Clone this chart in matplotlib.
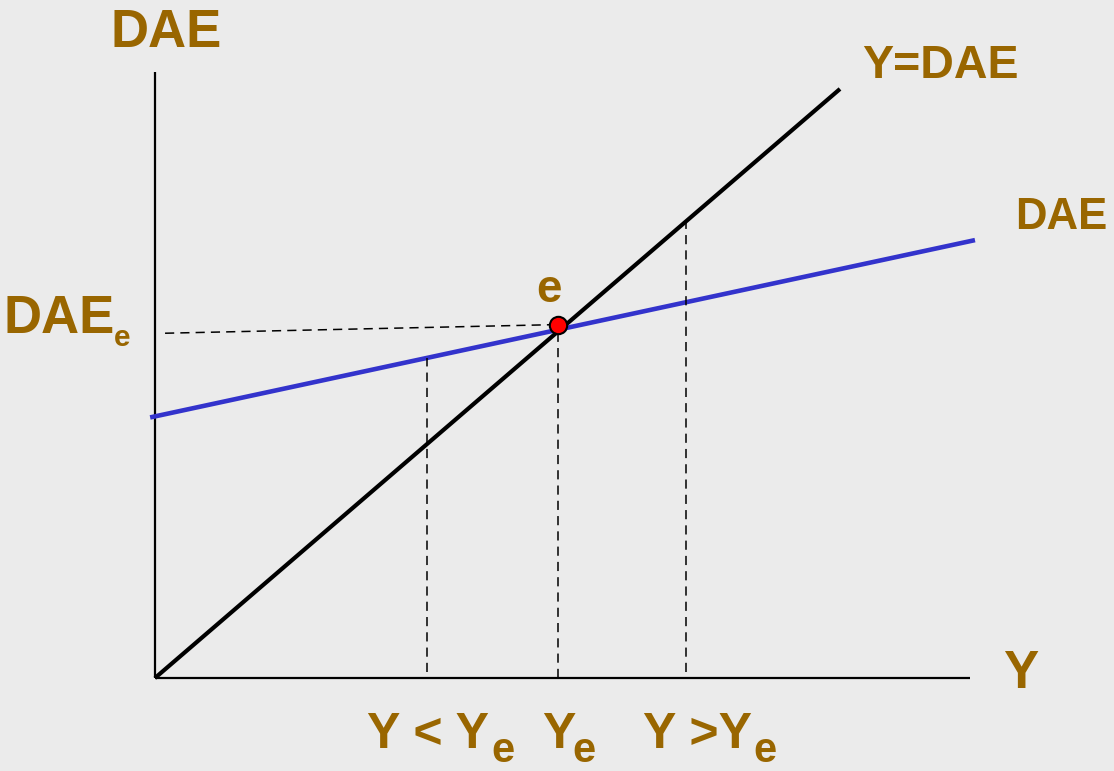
import numpy as np
import matplotlib.pyplot as plt

plt.rcParams['font.family'] = ['Liberation Sans', 'DejaVu Sans']

# model values (Y on the x axis, DAE on the y axis)
y_max = 17.0               # end of the 45-degree line
dae_intercept = 7.55       # autonomous spending
dae_slope = 0.25           # marginal propensity
y_range = [-0.12, 20.35]   # extent of the DAE line
y_eq = 10.0
dae_eq = 10.2
y_low = 6.75
y_high = 13.18

gold = '#996600'
blue = '#3333cc'

fig = plt.figure(figsize=(11.14, 7.71), dpi=100)
fig.patch.set_facecolor('#ebebeb')
ax = fig.add_axes([0, 0, 1, 1])
ax.set_facecolor('#ebebeb')
ax.set_xlim(-3.846, 23.80)
ax.set_ylim(-2.684, 19.567)
ax.axis('off')

# axes
ax.plot([0, 0], [0, 17.49], color='black', lw=1.6, solid_capstyle='butt')
ax.plot([0, 20.22], [0, 0], color='black', lw=1.6, solid_capstyle='butt')

# Y = DAE
ax.plot([0, y_max], [0, y_max], color='black', lw=3, solid_capstyle='butt')

# DAE line
xs = np.array(y_range)
ax.plot(xs, dae_intercept + dae_slope * xs, color=blue, lw=3.3, solid_capstyle='butt')

# dashed guides
dash = dict(color='black', lw=1.1, ls=(0, (6, 4)))
ax.plot([0.25, y_eq], [9.95, dae_eq], **dash)
ax.plot([y_eq, y_eq], [0, dae_eq], **dash)
ax.plot([y_low, y_low], [0.17, dae_intercept + dae_slope * y_low], **dash)
ax.plot([y_high, y_high], [0.17, y_high], **dash)

# equilibrium point
ax.plot(y_eq, dae_eq, 'o', ms=12.5, mfc='red', mec='black', mew=1.5, zorder=5)

tkw = dict(color=gold, fontweight='bold', va='baseline')
ax.text(0.273, 18.21, 'DAE', fontsize=38, ha='center', **tkw)
ax.text(19.48, 17.32, 'Y=DAE', fontsize=33.5, ha='center', **tkw)
ax.text(22.48, 12.96, 'DAE', fontsize=31.5, ha='center', **tkw)
ax.text(9.78, 10.85, 'e', fontsize=33, ha='center', **tkw)
ax.text(21.49, -0.29, 'Y', fontsize=38, ha='center', **tkw)

# DAE with subscript e
ax.text(-3.77, 9.96, 'DAE', fontsize=38, ha='left', **tkw)
ax.text(-1.02, 9.58, 'e', fontsize=21.5, ha='left', **tkw)

# labels under the Y axis
ax.text(5.26, -2.02, 'Y < Y', fontsize=36, ha='left', **tkw)
ax.text(8.34, -2.42, 'e', fontsize=30, ha='left', **tkw)
ax.text(9.60, -2.02, 'Y', fontsize=36, ha='left', **tkw)
ax.text(10.35, -2.42, 'e', fontsize=30, ha='left', **tkw)
ax.text(12.11, -2.02, 'Y >Y', fontsize=36, ha='left', **tkw)
ax.text(14.86, -2.42, 'e', fontsize=30, ha='left', **tkw)

fig.savefig('out.png', dpi=100, facecolor=fig.get_facecolor())
